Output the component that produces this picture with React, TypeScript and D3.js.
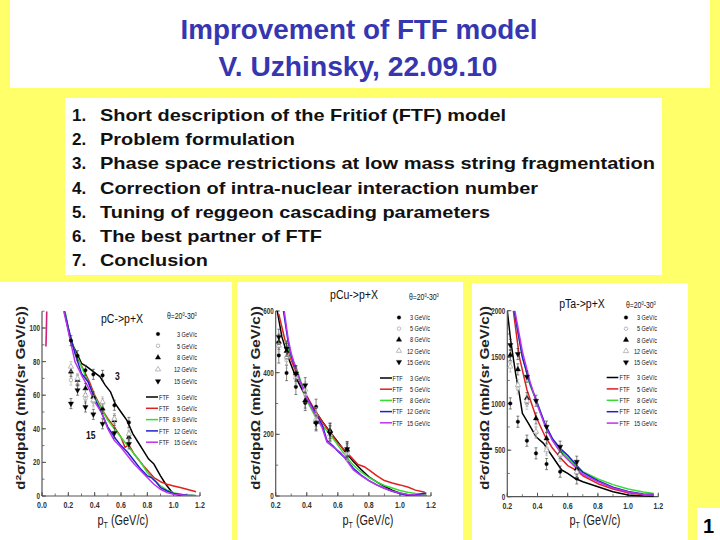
import React from 'react';
import * as d3 from 'd3';

const SANS = "'Liberation Sans', Arial, sans-serif";
const NARROW_SX = 0.78;

const YELLOW = '#ffff6a';
const TITLE_BLUE = '#3636b0';

const titleLines = ['Improvement of FTF model', 'V. Uzhinsky, 22.09.10'];
const topics = [
  'Short description of the Fritiof (FTF) model',
  'Problem formulation',
  'Phase space restrictions at low mass string fragmentation',
  'Correction of intra-nuclear interaction number',
  'Tuning of reggeon cascading parameters',
  'The best partner of FTF',
  'Conclusion',
];
const topicEnds = [506, 295, 655, 538, 490, 322, 208];

const expLabels = ['3 GeV/c', '5 GeV/c', '8 GeV/c', '12 GeV/c', '15 GeV/c'];
const ftfLabelsC = ['3 GeV/c', '5 GeV/c', '8.9 GeV/c', '12 GeV/c', '15 GeV/c'];
const ftfLabels = ['3 GeV/c', '5 GeV/c', '8 GeV/c', '12 GeV/c', '15 GeV/c'];
const ftfColors = ['#000000', '#e02020', '#33dd33', '#2020cc', '#bb33ee'];

const pTBins = [0.22, 0.27, 0.33, 0.39, 0.46, 0.55, 0.66];

// pC -> p+X
const pC_exp3 = [92.5, 83.5, 74.8, 72.4, 71.8, 54.0, 43.8];
const pC_exp5 = [69, 66, 58, 56, 55, 46, 36];
const pC_exp8 = [74, 69, 64, 59, 52, 45, 35];
const pC_exp12 = [77, 70, 60, 57, 56, 46, 37];
const pC_exp15 = [55, 63, 53, 48.6, 43, 37.5, 31];
const pC_ftf3: [number, number][] = [[0.17, 110], [0.22, 92], [0.27, 84], [0.3, 79], [0.34, 77], [0.39, 74], [0.44, 71], [0.48, 66], [0.52, 62], [0.556, 55], [0.6, 50], [0.645, 45], [0.69, 37], [0.73, 32], [0.77, 27], [0.81, 22], [0.85, 19], [0.9, 12], [0.94, 7], [0.98, 3], [1.0, 1.2], [1.05, 0.4], [1.17, 0.2]];
const pC_ftf5: [number, number][] = [[0.17, 110], [0.21, 95], [0.26, 84], [0.31, 76], [0.36, 68], [0.4, 60], [0.46, 51], [0.5, 46], [0.55, 41], [0.6, 35], [0.63, 29], [0.66, 30.5], [0.7, 25], [0.77, 18], [0.85, 11], [0.9, 8.5], [0.95, 7], [1.0, 6], [1.05, 5], [1.1, 4], [1.17, 2.5]];
const pC_ftf8: [number, number][] = [[0.175, 110], [0.21, 96], [0.25, 86], [0.3, 77], [0.35, 68], [0.4, 59], [0.45, 52], [0.5, 45], [0.55, 40], [0.6, 35], [0.65, 30], [0.7, 25], [0.75, 20], [0.8, 14], [0.85, 10], [0.9, 6], [0.95, 3.5], [1.0, 2], [1.05, 1], [1.1, 0.5], [1.17, 0.3]];
const pC_ftf12: [number, number][] = [[0.17, 110], [0.2, 100], [0.25, 85], [0.3, 73], [0.35, 68], [0.4, 58], [0.45, 50], [0.5, 41], [0.55, 35], [0.6, 30], [0.65, 26], [0.7, 21], [0.75, 16], [0.8, 12], [0.83, 11], [0.87, 8], [0.9, 5], [0.95, 3], [1.0, 1.5], [1.1, 0.5], [1.17, 0.2]];
const pC_ftf15: [number, number][] = [[0.165, 110], [0.2, 98], [0.25, 80], [0.3, 72], [0.35, 65], [0.4, 56], [0.45, 50], [0.5, 40], [0.55, 33], [0.6, 29], [0.65, 24], [0.7, 19], [0.75, 15], [0.8, 11], [0.85, 7], [0.9, 4], [0.95, 2], [1.0, 1], [1.1, 0.3], [1.17, 0.1]];
const pC_ftfLowTail: [number, number][] = [[0.036, 110], [0.033, 98], [0.03, 89]];

// pCu -> p+X
const pCu_exp3 = [456, 399, 354, 302, 289, 210, 145];
const pCu_exp5 = [494, 440, 390, 330, 262, 205, 140];
const pCu_exp8 = [500, 470, 398, 310, 240, 212, 150];
const pCu_exp12 = [488, 452, 385, 345, 250, 200, 138];
const pCu_exp15 = [516, 478, 397, 359, 236, 203, 152];
const pCu_ftf3: [number, number][] = [[0.21, 600], [0.24, 516], [0.28, 450], [0.33, 385], [0.38, 335], [0.42, 300], [0.46, 272], [0.5, 242], [0.55, 208], [0.6, 175], [0.65, 142], [0.7, 112], [0.75, 86], [0.8, 62], [0.85, 46], [0.9, 31], [0.95, 19], [1.0, 9], [1.05, 4], [1.1, 2], [1.17, 1]];
const pCu_ftf5: [number, number][] = [[0.22, 590], [0.26, 505], [0.3, 440], [0.35, 378], [0.4, 325], [0.45, 280], [0.5, 240], [0.55, 205], [0.6, 172], [0.65, 145], [0.7, 118], [0.73, 102], [0.77, 95], [0.8, 85], [0.85, 66], [0.9, 50], [0.95, 42], [1.0, 36], [1.05, 29], [1.1, 19], [1.16, 12]];
const pCu_ftf8: [number, number][] = [[0.26, 505], [0.3, 450], [0.33, 420], [0.37, 360], [0.4, 310], [0.45, 262], [0.5, 228], [0.55, 200], [0.6, 165], [0.65, 130], [0.7, 100], [0.75, 78], [0.8, 60], [0.85, 46], [0.9, 34], [0.95, 26], [1.0, 18], [1.05, 12], [1.1, 8], [1.17, 5]];
const pCu_ftf12: [number, number][] = [[0.25, 600], [0.28, 500], [0.3, 455], [0.35, 380], [0.4, 320], [0.45, 275], [0.5, 230], [0.53, 180], [0.57, 162], [0.6, 145], [0.65, 122], [0.7, 90], [0.75, 68], [0.8, 50], [0.85, 36], [0.9, 25], [0.95, 15], [1.0, 8], [1.05, 2], [1.1, 3], [1.17, 10]];
const pCu_ftf15: [number, number][] = [[0.255, 600], [0.28, 510], [0.3, 462], [0.35, 380], [0.4, 318], [0.45, 268], [0.5, 220], [0.53, 175], [0.58, 155], [0.62, 140], [0.65, 120], [0.7, 85], [0.75, 66], [0.8, 50], [0.85, 36], [0.9, 25], [0.95, 16], [1.0, 10], [1.05, 5], [1.1, 3], [1.17, 2]];

// pTa -> p+X
const pTa_exp3 = [1003, 806, 602, 466, 351, 269, 197];
const pTa_exp5 = [1452, 1165, 1000, 688, 520, 440, 287];
const pTa_exp8 = [1523, 1369, 1060, 842, 627, 470, 300];
const pTa_exp12 = [1400, 1200, 1030, 700, 500, 455, 265];
const pTa_exp15 = [1631, 1534, 1290, 1032, 753, 538, 376];
const pTa_ftf3: [number, number][] = [[0.2, 2000], [0.222, 1685], [0.255, 1326], [0.28, 1100], [0.3, 896], [0.34, 789], [0.39, 645], [0.44, 573], [0.5, 430], [0.56, 287], [0.6, 250], [0.65, 195], [0.7, 161], [0.8, 107], [0.9, 54], [1.0, 18], [1.1, 7], [1.17, 3]];
const pTa_ftf5: [number, number][] = [[0.24, 2000], [0.28, 1500], [0.33, 1150], [0.39, 860], [0.45, 650], [0.5, 520], [0.55, 420], [0.6, 335], [0.66, 280], [0.7, 225], [0.8, 140], [0.9, 82], [1.0, 42], [1.1, 22], [1.17, 15]];
const pTa_ftf8: [number, number][] = [[0.245, 2000], [0.3, 1500], [0.35, 1200], [0.4, 1000], [0.45, 780], [0.5, 620], [0.55, 505], [0.6, 420], [0.66, 320], [0.7, 270], [0.8, 190], [0.9, 130], [1.0, 82], [1.1, 50], [1.17, 35]];
const pTa_ftf12: [number, number][] = [[0.245, 2000], [0.3, 1500], [0.35, 1220], [0.4, 1000], [0.45, 780], [0.5, 620], [0.55, 520], [0.6, 445], [0.66, 335], [0.7, 262], [0.8, 172], [0.9, 102], [1.0, 56], [1.1, 30], [1.17, 24]];
const pTa_ftf15: [number, number][] = [[0.25, 2000], [0.3, 1560], [0.35, 1240], [0.4, 980], [0.45, 760], [0.5, 600], [0.55, 482], [0.6, 400], [0.66, 302], [0.7, 242], [0.8, 160], [0.9, 95], [1.0, 50], [1.1, 25], [1.17, 18]];

const pC_xTicks = [0, 0.2, 0.4, 0.6, 0.8, 1.0, 1.2];
const pC_yTicks = [0, 20, 40, 60, 80, 100];
const pCu_xTicks = [0.2, 0.4, 0.6, 0.8, 1.0, 1.2];
const pCu_yTicks = [0, 200, 400, 600];
const pTa_xTicks = [0.2, 0.4, 0.6, 0.8, 1.0, 1.2];
const pTa_yTicks = [0, 500, 1000, 1500, 2000];

interface PanelCfg {
  box: [number, number, number, number];
  title: string;
  titleAt: [number, number];
  thetaAt: [number, number];
  xDomain: [number, number];
  xRange: [number, number];
  yDomain: [number, number];
  yRange: [number, number];
  xTicks: number[];
  xMinorStep: number;
  yTicks: number[];
  yMinorStep: number;
  exp: number[][];
  ftf: [number, number][][];
  ftfNames: string[];
  extraLine?: [number, number][];
  err: number;
  legend: { symX: number; textEnd: number; y0: number; dy: number; lineX0: number; lineX1: number; ftfX: number; ly0: number; ldy: number };
  yLabelX: number;
  xLabelX: number;
  notes?: { text: string; x: number; y: number }[];
}

const panels: PanelCfg[] = [
  {
    box: [0, 282, 232, 258],
    title: 'pC->p+X', titleAt: [122, 323], thetaAt: [167, 319],
    xDomain: [0, 1.2], xRange: [42, 200], yDomain: [0, 110], yRange: [496, 311.2],
    xTicks: pC_xTicks, xMinorStep: 0.1, yTicks: pC_yTicks, yMinorStep: 10,
    exp: [pC_exp3, pC_exp5, pC_exp8, pC_exp12, pC_exp15],
    ftf: [pC_ftf3, pC_ftf5, pC_ftf8, pC_ftf12, pC_ftf15], ftfNames: ftfLabelsC,
    extraLine: pC_ftfLowTail, err: 3,
    legend: { symX: 158, textEnd: 197, y0: 334, dy: 11.8, lineX0: 146, lineX1: 158, ftfX: 159, ly0: 397, ldy: 11.3 },
    yLabelX: 25, xLabelX: 123,
    notes: [{ text: '3', x: 115, y: 380 }, { text: '15', x: 86, y: 439 }],
  },
  {
    box: [237, 282, 226, 258],
    title: 'pCu->p+X', titleAt: [354, 299], thetaAt: [409, 300],
    xDomain: [0.2, 1.2], xRange: [275.7, 431], yDomain: [0, 600], yRange: [496, 311],
    xTicks: pCu_xTicks, xMinorStep: 0.1, yTicks: pCu_yTicks, yMinorStep: 100,
    exp: [pCu_exp3, pCu_exp5, pCu_exp8, pCu_exp12, pCu_exp15],
    ftf: [pCu_ftf3, pCu_ftf5, pCu_ftf8, pCu_ftf12, pCu_ftf15], ftfNames: ftfLabels,
    err: 25,
    legend: { symX: 399, textEnd: 430, y0: 317.5, dy: 11.1, lineX0: 380, lineX1: 392, ftfX: 392.5, ly0: 378, ldy: 11.2 },
    yLabelX: 260, xLabelX: 368,
  },
  {
    box: [472, 283, 216, 257],
    title: 'pTa->p+X', titleAt: [582, 308], thetaAt: [626, 308],
    xDomain: [0.2, 1.2], xRange: [507.3, 658.3], yDomain: [0, 2000], yRange: [496.7, 310.7],
    xTicks: pTa_xTicks, xMinorStep: 0.1, yTicks: pTa_yTicks, yMinorStep: 250,
    exp: [pTa_exp3, pTa_exp5, pTa_exp8, pTa_exp12, pTa_exp15],
    ftf: [pTa_ftf3, pTa_ftf5, pTa_ftf8, pTa_ftf12, pTa_ftf15], ftfNames: ftfLabels,
    err: 60,
    legend: { symX: 626, textEnd: 657, y0: 317.5, dy: 11.2, lineX0: 606.7, lineX1: 618.3, ftfX: 619.5, ly0: 377.5, ldy: 11.4 },
    yLabelX: 489, xLabelX: 595,
  },
];

const triUp = d3.symbol().type(d3.symbolTriangle).size(12)() as string;
const circ = d3.symbol().type(d3.symbolCircle).size(10)() as string;

// narrow text: Arial-Narrow look by horizontal squeeze around the anchor point
function NT(props: {
  x: number; y: number; size: number; anchor?: 'start' | 'middle' | 'end'; bold?: boolean; fill?: string; sx?: number;
  children: React.ReactNode;
}) {
  const { x, y, size, anchor = 'start', bold = false, fill = '#111', sx = NARROW_SX, children } = props;
  return (
    <text
      transform={`translate(${x},${y}) scale(${sx},1)`}
      textAnchor={anchor}
      fontFamily={SANS}
      fontWeight={bold ? 'bold' : 'normal'}
      fontSize={size}
      fill={fill}
    >
      {children}
    </text>
  );
}

function Marker({ kind, x, y }: { kind: number; x: number; y: number }) {
  const open = kind === 1 || kind === 3;
  const path = kind === 0 || kind === 1 ? circ : triUp;
  const rot = kind === 4 ? 180 : 0;
  return (
    <path
      d={path}
      transform={`translate(${x},${y}) rotate(${rot})`}
      fill={open ? 'white' : '#000'}
      stroke={open ? '#aaa' : '#000'}
      strokeWidth={open ? 0.8 : 0.4}
    />
  );
}

function Panel({ cfg, id }: { cfg: PanelCfg; id: number }) {
  const x = d3.scaleLinear().domain(cfg.xDomain).range(cfg.xRange);
  const y = d3.scaleLinear().domain(cfg.yDomain).range(cfg.yRange);
  const line = d3.line<[number, number]>().x(d => x(d[0])).y(d => y(d[1]));
  const [bx, by, bw, bh] = cfg.box;
  const x0 = cfg.xRange[0];
  const y0 = cfg.yRange[0];
  const xMinor = d3.range(cfg.xDomain[0], cfg.xDomain[1] + 1e-9, cfg.xMinorStep);
  const yMinor = d3.range(cfg.yDomain[0], cfg.yDomain[1] + 1e-9, cfg.yMinorStep);
  const axisColor = '#555';
  const lg = cfg.legend;
  return (
    <g>
      <rect x={bx} y={by} width={bw} height={bh} fill="white" />
      <defs>
        <clipPath id={`clip${id}`}>
          <rect x={x0 + 0.5} y={cfg.yRange[1]} width={cfg.xRange[1] - x0 + 4} height={y0 - cfg.yRange[1]} />
        </clipPath>
      </defs>
      {/* axes */}
      <line x1={x0} x2={cfg.xRange[1]} y1={y0} y2={y0} stroke={axisColor} strokeWidth={1.2} />
      <line x1={x0} x2={x0} y1={y0} y2={cfg.yRange[1]} stroke={axisColor} strokeWidth={1.2} />
      {xMinor.map((t, i) => (
        <line key={'xm' + i} x1={x(t)} x2={x(t)} y1={y0} y2={y0 - 2.5} stroke={axisColor} strokeWidth={0.8} />
      ))}
      {cfg.xTicks.map(t => (
        <g key={'xt' + t}>
          <line x1={x(t)} x2={x(t)} y1={y0} y2={y0 - 4} stroke={axisColor} strokeWidth={1} />
          <NT x={x(t)} y={y0 + 12} size={9} anchor="middle" bold fill="#333">
            {d3.format('.1f')(t)}
          </NT>
        </g>
      ))}
      {yMinor.map((t, i) => (
        <line key={'ym' + i} x1={x0} x2={x0 + 2.5} y1={y(t)} y2={y(t)} stroke={axisColor} strokeWidth={0.8} />
      ))}
      {cfg.yTicks.map(t => (
        <g key={'yt' + t}>
          <line x1={x0} x2={x0 + 4} y1={y(t)} y2={y(t)} stroke={axisColor} strokeWidth={1} />
          <NT x={x0 - 2} y={y(t) + 3} size={8.5} anchor="end" bold fill="#333" sx={0.74}>
            {t}
          </NT>
        </g>
      ))}
      {/* curves */}
      <g clipPath={`url(#clip${id})`}>
        {cfg.extraLine && <path d={line(cfg.extraLine) || ''} fill="none" stroke="#d0207a" strokeWidth={1.6} />}
        {cfg.ftf.map((s, i) => (
          <path key={'f' + i} d={line(s) || ''} fill="none" stroke={ftfColors[i]} strokeWidth={1.5} strokeLinejoin="round" />
        ))}
      </g>
      {/* data points with error bars */}
      {cfg.exp.map((vals, k) =>
        vals.map((v, j) => {
          const px = x(pTBins[j]);
          const col = k === 1 || k === 3 ? '#aaa' : '#333';
          return (
            <g key={`p${k}-${j}`}>
              <line x1={px} x2={px} y1={y(v - cfg.err)} y2={y(v + cfg.err)} stroke={col} strokeWidth={0.6} />
              <line x1={px - 1.5} x2={px + 1.5} y1={y(v + cfg.err)} y2={y(v + cfg.err)} stroke={col} strokeWidth={0.6} />
              <line x1={px - 1.5} x2={px + 1.5} y1={y(v - cfg.err)} y2={y(v - cfg.err)} stroke={col} strokeWidth={0.6} />
              <Marker kind={k} x={px} y={y(v)} />
            </g>
          );
        })
      )}
      {/* title */}
      <NT x={cfg.titleAt[0]} y={cfg.titleAt[1]} size={13.5} anchor="middle">
        {cfg.title}
      </NT>
      <NT x={cfg.thetaAt[0]} y={cfg.thetaAt[1]} size={9} sx={0.76}>
        θ=20<tspan dy={-3.5} fontSize={5.5}>0</tspan>
        <tspan dy={3.5}>-30</tspan>
        <tspan dy={-3.5} fontSize={5.5}>0</tspan>
      </NT>
      {/* legend: experiment */}
      {expLabels.map((lab, k) => (
        <g key={'le' + k}>
          <Marker kind={k} x={lg.symX} y={lg.y0 + k * lg.dy} />
          <NT x={lg.textEnd} y={lg.y0 + k * lg.dy + 2.7} size={7.5} anchor="end" sx={0.74}>
            {lab}
          </NT>
        </g>
      ))}
      {/* legend: FTF */}
      {cfg.ftfNames.map((lab, k) => (
        <g key={'lf' + k}>
          <line x1={lg.lineX0} x2={lg.lineX1} y1={lg.ly0 + k * lg.ldy} y2={lg.ly0 + k * lg.ldy} stroke={ftfColors[k]} strokeWidth={1.5} />
          <NT x={lg.ftfX} y={lg.ly0 + k * lg.ldy + 2.7} size={7.5} sx={0.74}>
            FTF
          </NT>
          <NT x={lg.textEnd} y={lg.ly0 + k * lg.ldy + 2.7} size={7.5} anchor="end" sx={0.74}>
            {lab}
          </NT>
        </g>
      ))}
      {cfg.notes &&
        cfg.notes.map((n, i) => (
          <NT key={'n' + i} x={n.x} y={n.y} size={11} bold>
            {n.text}
          </NT>
        ))}
      {/* axis labels */}
      <text
        transform={`translate(${cfg.yLabelX},398) rotate(-90)`}
        textAnchor="middle"
        fontFamily={SANS}
        fontWeight="bold"
        fontSize={12}
        fill="#222"
        textLength={184}
        lengthAdjust="spacingAndGlyphs"
      >
        d<tspan dy={-4} fontSize={8}>2</tspan>
        <tspan dy={4}>σ/dpdΩ (mb/(sr GeV/c))</tspan>
      </text>
      <NT x={cfg.xLabelX} y={525} size={14} anchor="middle" fill="#222">
        p<tspan dy={3} fontSize={9}>T</tspan>
        <tspan dy={-3}> (GeV/c)</tspan>
      </NT>
    </g>
  );
}

export default function App() {
  return (
    <svg width={720} height={540} style={{ display: 'block', position: 'absolute', left: 0, top: 0 }}>
      <rect x={0} y={0} width={720} height={540} fill={YELLOW} />
      {/* title box */}
      <rect x={10} y={0} width={700} height={88} fill="white" />
      <text x={359} y={39} textAnchor="middle" fontFamily={SANS} fontWeight="bold" fontSize={28} fill={TITLE_BLUE} textLength={357} lengthAdjust="spacingAndGlyphs">
        {titleLines[0]}
      </text>
      <text x={358} y={76} textAnchor="middle" fontFamily={SANS} fontWeight="bold" fontSize={28} fill={TITLE_BLUE} textLength={279} lengthAdjust="spacingAndGlyphs">
        {titleLines[1]}
      </text>
      {/* topics box */}
      <rect x={65} y={98} width={597} height={177} fill="white" />
      {topics.map((t, i) => (
        <g key={i}>
          <text x={72} y={121 + i * 24.2} fontFamily={SANS} fontWeight="bold" fontSize={17} fill="#111">
            {i + 1}.
          </text>
          <text x={100} y={121 + i * 24.2} fontFamily={SANS} fontWeight="bold" fontSize={17} fill="#111" textLength={topicEnds[i] - 100} lengthAdjust="spacingAndGlyphs">
            {t}
          </text>
        </g>
      ))}
      {panels.map((p, i) => (
        <Panel key={i} cfg={p} id={i} />
      ))}
      {/* page number */}
      <rect x={697} y={508} width={23} height={32} fill="white" />
      <text x={708.5} y={533} textAnchor="middle" fontFamily={SANS} fontWeight="bold" fontSize={20} fill="#000">
        1
      </text>
    </svg>
  );
}
